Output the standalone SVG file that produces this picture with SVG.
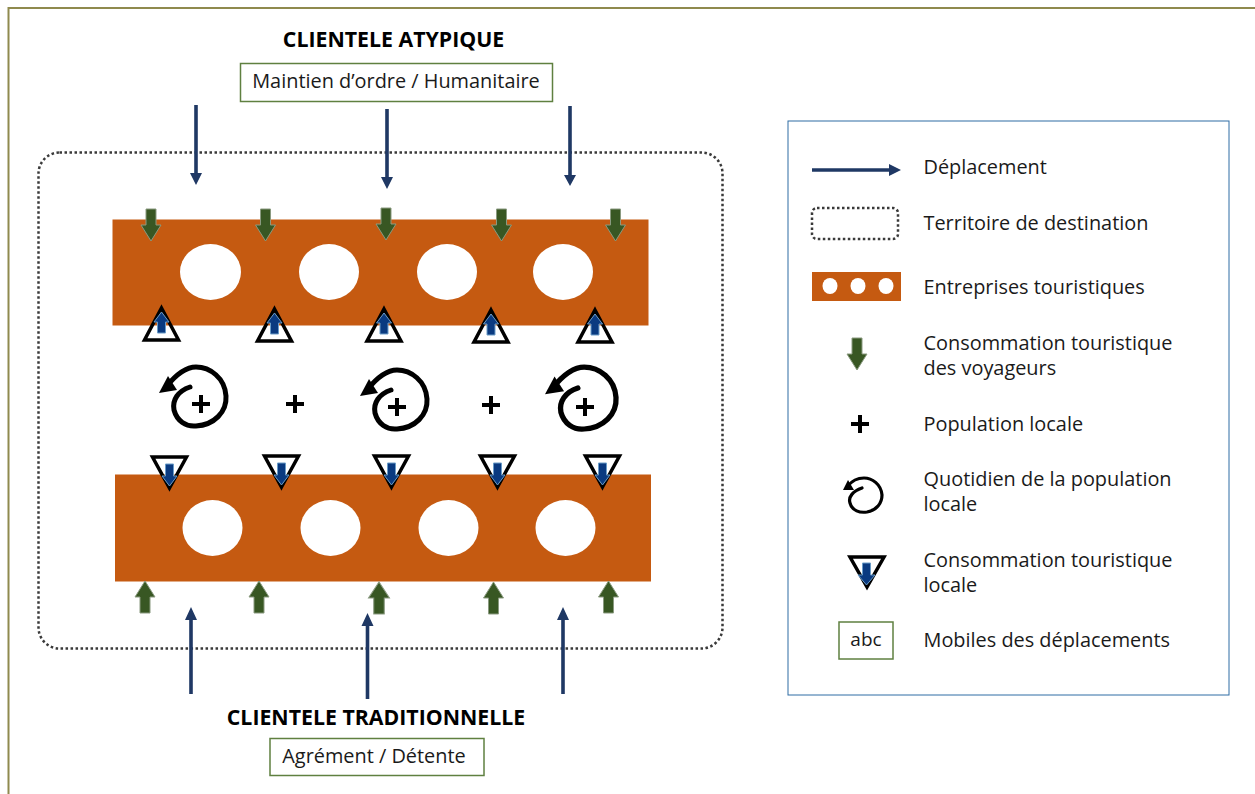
<svg xmlns="http://www.w3.org/2000/svg" width="1255" height="794" viewBox="0 0 1255 794">
<style>
text{font-family:"Open Sans","Noto Sans","Liberation Sans",sans-serif;fill:#1a1a1a;font-size:19.9px}
.t{font-weight:700;fill:#000;font-size:21.3px;text-anchor:middle}
.m{text-anchor:middle}
.box{fill:#fff;stroke:#5f8040;stroke-width:1.5}
.band{fill:#c55a11}
.hole{fill:#fff}
.move{stroke:#1f3864;stroke-width:3.6;fill:none}
.movehead{fill:#1f3864}
.terr{fill:none;stroke:#3a3a3a;stroke-width:2.5;stroke-dasharray:2.5 2.5}
.gr{fill:#385723;stroke:#8a9a80;stroke-width:1}
.bl{fill:#0a3a80;stroke:#6a9cc8;stroke-width:1}
.tri{fill:none;stroke:#000;stroke-width:3.5;stroke-linejoin:miter}
.sp{fill:none;stroke:#000;stroke-width:5;stroke-linecap:round}
.sl{fill:none;stroke:#000;stroke-width:3.2;stroke-linecap:round}
.pl{stroke:#000;stroke-width:4;fill:none}
</style>
<defs>
<path id="g" class="gr" d="M-5,-16H5V0H10L0,16L-10,0H-5Z"/>
<g id="tu"><path class="tri" d="M0,-15L17,17H-17Z"/><path class="bl" d="M-4,10V-1H-7.500L0,-11L7.500,-1H4V10Z"/></g>
<g id="td"><path class="tri" d="M0,15L17,-16H-17Z"/><path class="bl" d="M-4,-9V3H-7.500L0,13L7.500,3H4V-9Z"/></g>
<g id="sp"><path class="sp" d="M190,387C178,391 172,400 174,410C177,421 186,427 196,426C214,425 227,412 226,396C225,378 210,367 196,367C184,367 174,377 166,387"/><path d="M159,393L168,376L177,390Z"/></g>
<g id="pl"><path class="pl" d="M-9,0H9M0,-9V9"/></g>
</defs>
<rect x="8.500" y="8" width="1260" height="800" fill="#fff" stroke="#8f8a4e" stroke-width="2"/>
<g id="territoire"><rect x="38.500" y="152.500" width="684" height="496" rx="21" class="terr"/></g>
<g id="entreprises-haut"><rect x="112.500" y="219.500" width="536" height="106" class="band"/>
<ellipse cx="210.500" cy="272" rx="30.500" ry="28" class="hole"/><ellipse cx="329" cy="272" rx="30" ry="28" class="hole"/><ellipse cx="447" cy="272" rx="30" ry="28" class="hole"/><ellipse cx="563" cy="272" rx="30" ry="28" class="hole"/></g>
<g id="entreprises-bas"><rect x="115" y="474.500" width="536" height="107" class="band"/>
<ellipse cx="212.500" cy="528" rx="30" ry="28" class="hole"/><ellipse cx="330.500" cy="528" rx="30" ry="28" class="hole"/><ellipse cx="448.500" cy="528" rx="30" ry="28" class="hole"/><ellipse cx="565.500" cy="528" rx="30" ry="28" class="hole"/></g>
<g id="clientele-atypique"><text x="393.500" y="47" class="t">CLIENTELE ATYPIQUE</text><rect x="240.500" y="63.500" width="312" height="38" class="box"/><text x="396" y="88" class="m">Maintien d’ordre / Humanitaire</text></g>
<g id="clientele-traditionnelle"><text x="376" y="725" class="t">CLIENTELE TRADITIONNELLE</text><rect x="270" y="738.500" width="214" height="37" class="box"/><text x="374" y="763" class="m">Agrément / Détente</text></g>
<g id="connecteurs">
<path class="move" d="M196,105V174M387,109V178M570,106V176M191,694V618M367.500,699V624M563,694V618"/>
<path class="movehead" d="M190,173H202L196,185ZM381,177H393L387,189ZM564,175H576L570,186ZM185,620H197L191,607ZM361.500,626H373.500L367.500,613ZM557,620H569L563,607Z"/>
</g>
<g id="consommation-voyageurs">
<use href="#g" x="151" y="225"/><use href="#g" x="265.500" y="225"/><use href="#g" x="386" y="224"/><use href="#g" x="501.500" y="225"/><use href="#g" x="615.500" y="225"/>
<use href="#g" transform="translate(145,597) scale(1,-1)"/><use href="#g" transform="translate(259,597) scale(1,-1)"/><use href="#g" transform="translate(379,598) scale(1.05,-1)"/><use href="#g" transform="translate(493.500,598) scale(1,-1)"/><use href="#g" transform="translate(608.500,597) scale(1,-1)"/>
</g>
<g id="consommation-locale">
<use href="#tu" x="161.500" y="323"/><use href="#tu" x="274.500" y="324"/><use href="#tu" x="384" y="324"/><use href="#tu" x="491" y="325"/><use href="#tu" x="595" y="325"/>
<use href="#td" x="169.500" y="473"/><use href="#td" x="281.500" y="472"/><use href="#td" x="391.500" y="472"/><use href="#td" x="497.500" y="472"/><use href="#td" x="602.500" y="472"/>
</g>
<g id="population">
<use href="#sp"/><use href="#sp" transform="translate(201,3)"/><use href="#sp" transform="translate(545,366) scale(1.06,1.05) translate(-159,-366)"/>
<use href="#pl" x="201" y="404"/><use href="#pl" x="397" y="407"/><use href="#pl" x="585" y="407"/><use href="#pl" x="295" y="404"/><use href="#pl" x="491" y="405"/>
</g>
<g id="legende"><rect x="788" y="121" width="441" height="574" fill="#fff" stroke="#2e6da4" stroke-width="1"/>
<path class="move" d="M812,170H892"/><path class="movehead" d="M889,164L901,170L889,176Z"/>
<text x="923.500" y="174">Déplacement</text>
<rect x="812" y="208" width="86" height="31" rx="5" class="terr"/>
<text x="923.500" y="230">Territoire de destination</text>
<rect x="812" y="272" width="89" height="29" class="band"/><ellipse cx="830" cy="286" rx="7.500" ry="8" class="hole"/><ellipse cx="858" cy="286" rx="7.500" ry="8" class="hole"/><ellipse cx="886" cy="286" rx="7.500" ry="8" class="hole"/>
<text x="923.500" y="294">Entreprises touristiques</text>
<use href="#g" x="857" y="354"/>
<text x="923.500" y="350">Consommation touristique</text><text x="923.500" y="375">des voyageurs</text>
<use href="#pl" x="860" y="424"/>
<text x="923.500" y="431">Population locale</text>
<path class="sl" d="M862,488C853,491 848,497 850,503C852,511 860,513 867,512C877,510 882,503 882,495C881,484 872,478 864,478C857,478 851,482 848,486"/><path d="M843,490L848,480L854,490Z"/>
<text x="923.500" y="486">Quotidien de la population</text><text x="923.500" y="511">locale</text>
<path class="tri" d="M850,557H884L867,587Z"/><path class="bl" d="M-4,-10V2H-8.500L0,12L8.500,2H4V-10Z" transform="translate(866.500,573)"/>
<text x="923.500" y="567">Consommation touristique</text><text x="923.500" y="592">locale</text>
<rect x="839" y="622" width="54" height="37" class="box"/><text x="866" y="646" class="m" style="font-size:19px">abc</text>
<text x="923.500" y="647">Mobiles des déplacements</text>
</g>
</svg>
